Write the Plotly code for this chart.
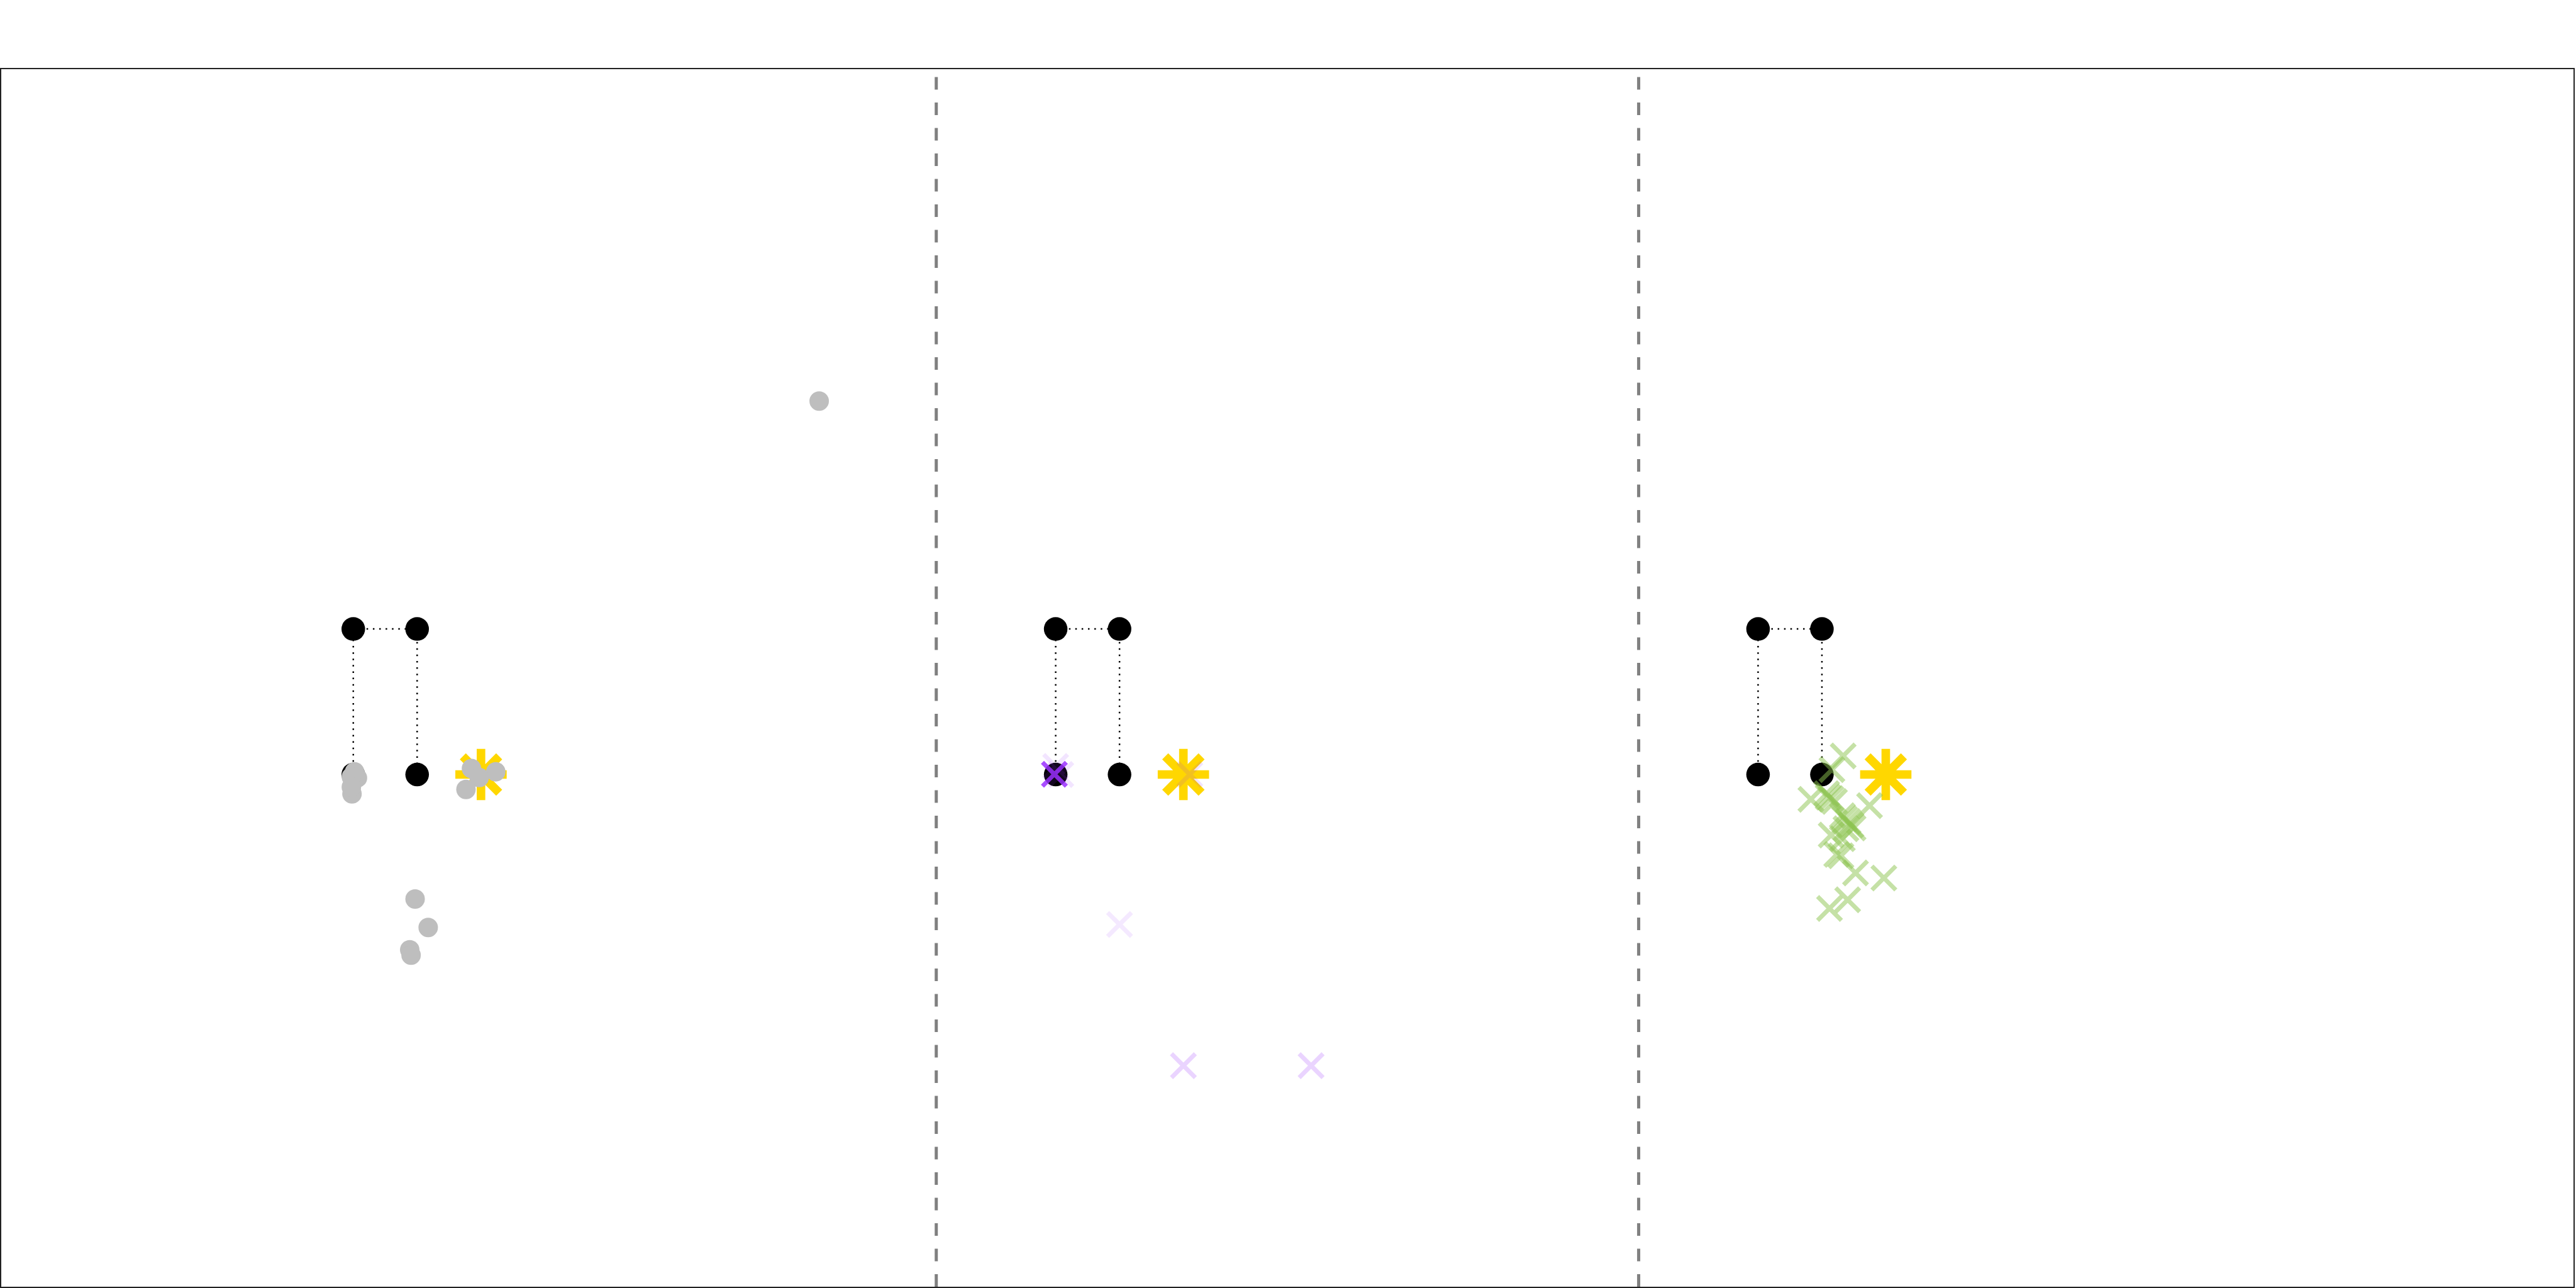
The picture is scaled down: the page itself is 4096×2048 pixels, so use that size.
import plotly.graph_objects as go

# ---- data ----
anchor_x = [0, 1, 0, 1, 11, 12, 11, 12, 22, 23, 22, 23]
anchor_y = [1, 1, 0, 0, 1, 1, 0, 0, 1, 1, 0, 0]

path_x = [0, 0, 1, 1, None, 11, 11, 12, 12, None, 22, 22, 23, 23]
path_y = [0, 1, 1, 0, None, 0, 1, 1, 0, None, 0, 1, 1, 0]

target_x = [2, 13, 24]
target_y = [0, 0, 0]

gray_x = [0.02, 0.065, -0.03, -0.02, -0.03, 1.851, 2.231, 1.972, 1.765,
          0.968, 1.173, 0.884, 0.905, 7.296]
gray_y = [0.019, -0.023, -0.016, -0.133, -0.086, 0.041, 0.019, -0.020, -0.102,
          -0.855, -1.051, -1.204, -1.241, 2.566]

purple_x = [11.0, 11.08, 10.98, 13.10, 12.0, 13.0, 15.0]
purple_y = [0.056, 0.0, 0.002, 0.0, -1.03, -2.0, -2.0]
purple_alpha = [0.12, 0.12, 0.85, 0.13, 0.1, 0.2, 0.2]

green_x = [23.333, 23.157, 22.827, 23.746, 23.074, 23.097, 23.141, 23.197,
           23.320, 23.354, 23.410, 23.455, 23.488, 23.376, 23.145, 23.320,
           23.231, 23.298, 23.526, 23.970, 23.403, 23.119]
green_y = [0.128, 0.034, -0.170, -0.214, -0.131, -0.155, -0.165, -0.185,
           -0.283, -0.303, -0.323, -0.347, -0.367, -0.372, -0.416, -0.441,
           -0.549, -0.558, -0.676, -0.711, -0.861, -0.920]

divider_x = [9.13, 20.13]

x_range = [-5.513, 34.770]
y_range = [-3.519, 4.846]

fig = go.Figure()

fig.add_trace(go.Scatter(x=path_x, y=path_y, mode="lines",
                         line=dict(color="black", width=2.5, dash="2.5px,7.6px"),
                         hoverinfo="skip", showlegend=False))

fig.add_trace(go.Scatter(x=anchor_x, y=anchor_y, mode="markers",
                         marker=dict(color="black", size=37.5, line=dict(width=0)),
                         showlegend=False))

fig.add_trace(go.Scatter(x=target_x, y=target_y, mode="markers",
                         marker=dict(symbol="asterisk", size=68, color="#FFD700",
                                     line=dict(color="#FFD700", width=13.6)),
                         showlegend=False))

fig.add_trace(go.Scatter(x=gray_x, y=gray_y, mode="markers",
                         marker=dict(color="#BEBEBE", size=31, line=dict(width=0)),
                         showlegend=False))

fig.add_trace(go.Scatter(x=purple_x, y=purple_y, mode="markers",
                         marker=dict(symbol="x-thin", size=38, color="#9B30FF",
                                     opacity=purple_alpha,
                                     line=dict(color="#9B30FF", width=7)),
                         showlegend=False))

fig.add_trace(go.Scatter(x=green_x, y=green_y, mode="markers",
                         marker=dict(symbol="x-thin", size=38, color="#8DC450",
                                     opacity=0.5,
                                     line=dict(color="#8DC450", width=7)),
                         showlegend=False))

for dx in divider_x:
    fig.add_shape(type="line", xref="x", yref="paper", x0=dx, x1=dx, y0=0, y1=1,
                  line=dict(color="#808080", width=5, dash="20px,20.5px"), layer="below")

axis_style = dict(showgrid=False, zeroline=False, showticklabels=False, ticks="",
                  showline=True, mirror=True, linecolor="#222222", linewidth=2)

fig.update_layout(
    width=4096, height=2048,
    margin=dict(l=2, r=2, t=110, b=2, pad=0),
    paper_bgcolor="white", plot_bgcolor="white",
    xaxis=dict(range=x_range, **axis_style),
    yaxis=dict(range=y_range, **axis_style),
    showlegend=False,
)

fig.write_html("out.html")
